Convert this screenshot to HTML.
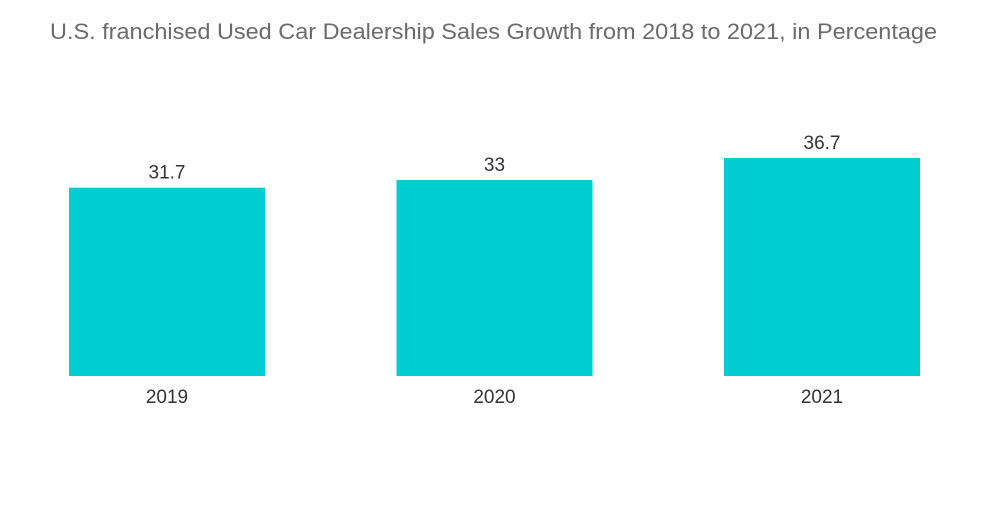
<!DOCTYPE html>
<html><head><meta charset="utf-8">
<style>
html,body{margin:0;padding:0;background:#fff;}
body{width:1000px;height:504px;overflow:hidden;font-family:"Liberation Sans",sans-serif;}
</style></head>
<body>
<svg id="chart" width="1000" height="504" xmlns="http://www.w3.org/2000/svg">
<text x="493.5" y="39" text-anchor="middle" font-size="22" textLength="887" lengthAdjust="spacingAndGlyphs" fill="#6b6b6b" font-family="Liberation Sans, sans-serif">U.S. franchised Used Car Dealership Sales Growth from 2018 to 2021, in Percentage</text>
<g id="bars"></g>
</svg>
<script>
const categories = ["2019","2020","2021"];
const values = [31.7, 33, 36.7];
const valueLabels = ["31.7","33","36.7"];
const svg = document.getElementById('bars');
const NS = "http://www.w3.org/2000/svg";
const baseY = 376, pxPerUnit = 218/36.7;
const bandStart = 69, bandStep = 327.5, barW = 196;
function xPos(i){ return bandStart + i*bandStep; }
function yPos(v){ return baseY - v*pxPerUnit; }
categories.forEach((c,i)=>{
  const x = xPos(i), y = yPos(values[i]);
  const r = document.createElementNS(NS,'rect');
  
  
  r.setAttribute('x',x); r.setAttribute('y',y);
  r.setAttribute('width',barW); r.setAttribute('height',baseY-y);
  r.setAttribute('fill','#00ced1');
  svg.appendChild(r);
  const t = document.createElementNS(NS,'text');
  
  
  t.setAttribute('x',x+barW/2); t.setAttribute('y',y-9);
  t.setAttribute('text-anchor','middle'); t.setAttribute('font-size','19');
  t.setAttribute('fill','#333');
  t.textContent = valueLabels[i];
  svg.appendChild(t);
  const l = document.createElementNS(NS,'text');
  
  
  l.setAttribute('x',x+barW/2); l.setAttribute('y',403);
  l.setAttribute('text-anchor','middle'); l.setAttribute('font-size','19');
  l.setAttribute('fill','#333');
  l.textContent = c;
  svg.appendChild(l);
});
</script>
</body></html>
